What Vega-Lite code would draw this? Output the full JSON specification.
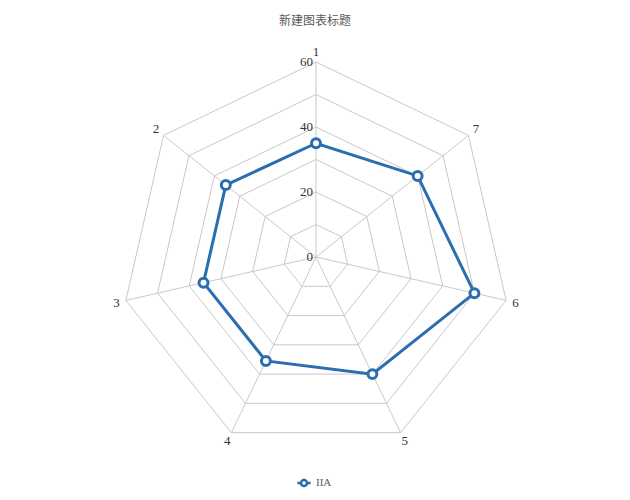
{
  "$schema": "https://vega.github.io/schema/vega-lite/v6.json",
  "width": 630,
  "height": 460,
  "autosize": {"type": "none"},
  "padding": {"top": 40, "left": 0, "right": 0, "bottom": 0},
  "background": "white",
  "title": {"text": "新建图表标题", "font": "Noto Sans CJK SC", "fontSize": 12, "fontWeight": "normal", "color": "#595959", "anchor": "middle", "offset": 12},
  "config": {"view": {"stroke": null}},
  "datasets": {
    "series": [
      {"axis": "1", "k": 0, "value": 35, "series": "IIA"},
      {"axis": "2", "k": 1, "value": 35.5, "series": "IIA"},
      {"axis": "3", "k": 2, "value": 35.5, "series": "IIA"},
      {"axis": "4", "k": 3, "value": 35.5, "series": "IIA"},
      {"axis": "5", "k": 4, "value": 40, "series": "IIA"},
      {"axis": "6", "k": 5, "value": 50, "series": "IIA"},
      {"axis": "7", "k": 6, "value": 40, "series": "IIA"}
    ],
    "rings": [
      {"r": 10, "k": [0, 1, 2, 3, 4, 5, 6]},
      {"r": 20, "k": [0, 1, 2, 3, 4, 5, 6]},
      {"r": 30, "k": [0, 1, 2, 3, 4, 5, 6]},
      {"r": 40, "k": [0, 1, 2, 3, 4, 5, 6]},
      {"r": 50, "k": [0, 1, 2, 3, 4, 5, 6]},
      {"r": 60, "k": [0, 1, 2, 3, 4, 5, 6]}
    ],
    "ticks": [
      {"r": 0, "label": "0"},
      {"r": 20, "label": "20"},
      {"r": 40, "label": "40"},
      {"r": 60, "label": "60"}
    ]
  },
  "encoding": {
    "x": {"field": "x", "type": "quantitative", "scale": {"domain": [-97.23, 96.62], "nice": false, "zero": false}, "axis": null},
    "y": {"field": "y", "type": "quantitative", "scale": {"domain": [-74.77, 66.77], "nice": false, "zero": false}, "axis": null}
  },
  "layer": [
    {
      "data": {"name": "rings"},
      "transform": [
        {"flatten": ["k"]},
        {"calculate": "PI/2 + datum.k*2*PI/7", "as": "theta"},
        {"calculate": "datum.r*cos(datum.theta)", "as": "x"},
        {"calculate": "datum.r*sin(datum.theta)", "as": "y"}
      ],
      "mark": {"type": "line", "interpolate": "linear-closed", "color": "#c9c9c9", "strokeWidth": 1},
      "encoding": {"detail": {"field": "r"}, "order": {"field": "k"}}
    },
    {
      "data": {"name": "series"},
      "transform": [
        {"calculate": "PI/2 + datum.k*2*PI/7", "as": "theta"},
        {"calculate": "0", "as": "x"},
        {"calculate": "0", "as": "y"},
        {"calculate": "60*cos(datum.theta)", "as": "x2"},
        {"calculate": "60*sin(datum.theta)", "as": "y2"}
      ],
      "mark": {"type": "rule", "color": "#c9c9c9", "strokeWidth": 1},
      "encoding": {"x2": {"field": "x2"}, "y2": {"field": "y2"}}
    },
    {
      "data": {"name": "series"},
      "transform": [
        {"calculate": "PI/2 + datum.k*2*PI/7", "as": "theta"},
        {"calculate": "63*cos(datum.theta)", "as": "x"},
        {"calculate": "63*sin(datum.theta)", "as": "y"}
      ],
      "mark": {"type": "text", "font": "Liberation Serif", "fontSize": 13, "color": "#333333", "align": "center", "baseline": "middle"},
      "encoding": {"text": {"field": "axis"}}
    },
    {
      "data": {"name": "ticks"},
      "transform": [
        {"calculate": "0", "as": "x"},
        {"calculate": "datum.r", "as": "y"}
      ],
      "mark": {"type": "text", "font": "Liberation Serif", "fontSize": 13, "color": "#333333", "align": "right", "baseline": "middle", "dx": -3},
      "encoding": {"text": {"field": "label"}}
    },
    {
      "data": {"name": "series"},
      "transform": [
        {"calculate": "PI/2 + datum.k*2*PI/7", "as": "theta"},
        {"calculate": "datum.value*cos(datum.theta)", "as": "x"},
        {"calculate": "datum.value*sin(datum.theta)", "as": "y"}
      ],
      "layer": [
        {
          "mark": {"type": "line", "interpolate": "linear-closed", "strokeWidth": 3},
          "encoding": {
            "order": {"field": "k"},
            "color": {"field": "series", "type": "nominal", "scale": {"range": ["#2A6EAF"]}, "legend": {"title": null, "orient": "none", "legendX": 296, "legendY": 435, "symbolType": "M-1,0L-0.45,0M0.45,0L1,0M-0.45,0A0.45,0.45 0 1,1 0.45,0A0.45,0.45 0 1,1 -0.45,0Z", "symbolSize": 180, "symbolStrokeWidth": 2.5, "symbolFillColor": "white", "labelFont": "Liberation Serif", "labelFontSize": 11, "labelColor": "#595959"}}
          }
        },
        {
          "mark": {"type": "point", "filled": false, "strokeWidth": 3, "size": 80, "fill": "white", "fillOpacity": 1},
          "encoding": {"color": {"field": "series", "type": "nominal"}}
        }
      ]
    }
  ]
}
